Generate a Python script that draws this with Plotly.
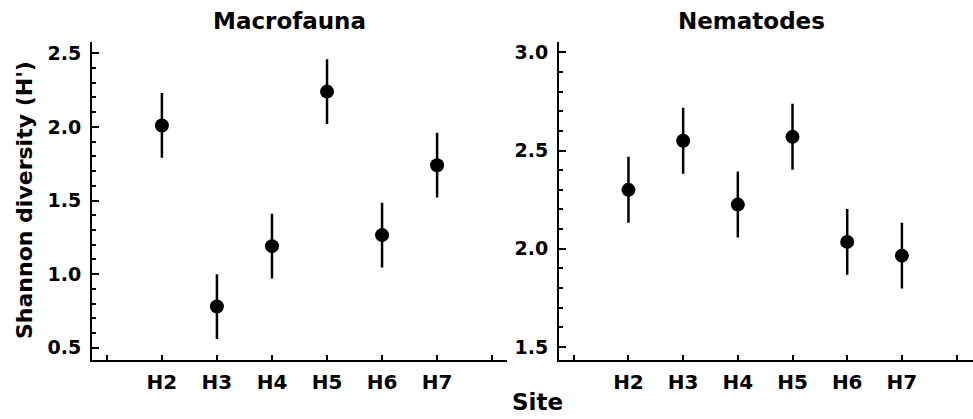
import plotly.graph_objects as go

sites = ["H2", "H3", "H4", "H5", "H6", "H7"]
site_pos = [2, 3, 4, 5, 6, 7]
x_tickvals = [1, 2, 3, 4, 5, 6, 7, 8]
x_ticktext = ["", "H2", "H3", "H4", "H5", "H6", "H7", ""]

macro_mean = [2.01, 0.78, 1.19, 2.24, 1.265, 1.74]
macro_err = [0.22, 0.22, 0.22, 0.22, 0.22, 0.22]

nema_mean = [2.30, 2.55, 2.225, 2.57, 2.035, 1.965]
nema_err = [0.168, 0.168, 0.168, 0.168, 0.168, 0.168]

FONT = "DejaVu Sans"
W, H = 973, 419

fig = go.Figure()
for mean, err, xa, ya in [(macro_mean, macro_err, "x", "y"), (nema_mean, nema_err, "x2", "y2")]:
    fig.add_trace(go.Scatter(
        x=site_pos, y=mean, mode="markers", xaxis=xa, yaxis=ya,
        marker=dict(color="black", size=14, symbol="circle"),
        error_y=dict(type="data", array=err, visible=True, color="black", thickness=2.5, width=0),
        showlegend=False, hoverinfo="skip"))

ydom = [1 - 359.5 / H, 1 - 42 / H]
line_common = dict(showgrid=False, zeroline=False, showline=True, linecolor="black", linewidth=2,
                   ticks="inside", tickcolor="black", tickwidth=2)
xfont = dict(family=FONT, size=20, color="black", weight="bold")
yfont = dict(family=FONT, size=19, color="black", weight="bold")
minor = dict(ticks="inside", ticklen=4, dtick=0.1, tick0=0, tickcolor="black", tickwidth=2, showgrid=False)

fig.update_layout(
    width=W, height=H, margin=dict(l=0, r=0, t=0, b=0),
    plot_bgcolor="white", paper_bgcolor="white",
    xaxis=dict(domain=[92 / W, 507 / W], range=[0.73, 8.27], tickvals=x_tickvals, ticktext=x_ticktext,
               ticklen=5, anchor="y", ticklabelstandoff=3, tickfont=xfont, **line_common),
    yaxis=dict(domain=ydom, range=[0.42, 2.577], tickvals=[0.5, 1.0, 1.5, 2.0, 2.5],
               ticktext=["0.5", "1.0", "1.5", "2.0", "2.5"],
               ticklen=7, anchor="x", ticklabelstandoff=5, minor=minor, tickfont=yfont, **line_common),
    xaxis2=dict(domain=[559 / W, 1.0], range=[0.73, 8.3], tickvals=x_tickvals, ticktext=x_ticktext,
                ticklen=5, anchor="y2", ticklabelstandoff=3, tickfont=xfont, **line_common),
    yaxis2=dict(domain=ydom, range=[1.436, 3.053], tickvals=[1.5, 2.0, 2.5, 3.0],
                ticktext=["1.5", "2.0", "2.5", "3.0"],
                ticklen=7, anchor="x2", ticklabelstandoff=5, minor=minor, tickfont=yfont, **line_common),
)

title_font = dict(family=FONT, size=23, color="black", weight="bold")
fig.add_annotation(text="Macrofauna", x=289 / W, y=1 - 21 / H, xref="paper", yref="paper",
                   showarrow=False, font=title_font, xanchor="center", yanchor="middle")
fig.add_annotation(text="Nematodes", x=751 / W, y=1 - 21 / H, xref="paper", yref="paper",
                   showarrow=False, font=title_font, xanchor="center", yanchor="middle")
fig.add_annotation(text="Site", x=537 / W, y=1 - 402 / H, xref="paper", yref="paper",
                   showarrow=False, font=dict(family=FONT, size=23, color="black", weight="bold"),
                   xanchor="center", yanchor="middle")
fig.add_annotation(text="Shannon diversity (H')", x=25 / W, y=1 - 200 / H, xref="paper", yref="paper",
                   showarrow=False, textangle=-90, font=dict(family=FONT, size=22, color="black", weight="bold"),
                   xanchor="center", yanchor="middle")

fig.write_html("out.html", config={"displayModeBar": False},
               post_script="document.body.style.margin='0';document.body.style.overflow='hidden';")
